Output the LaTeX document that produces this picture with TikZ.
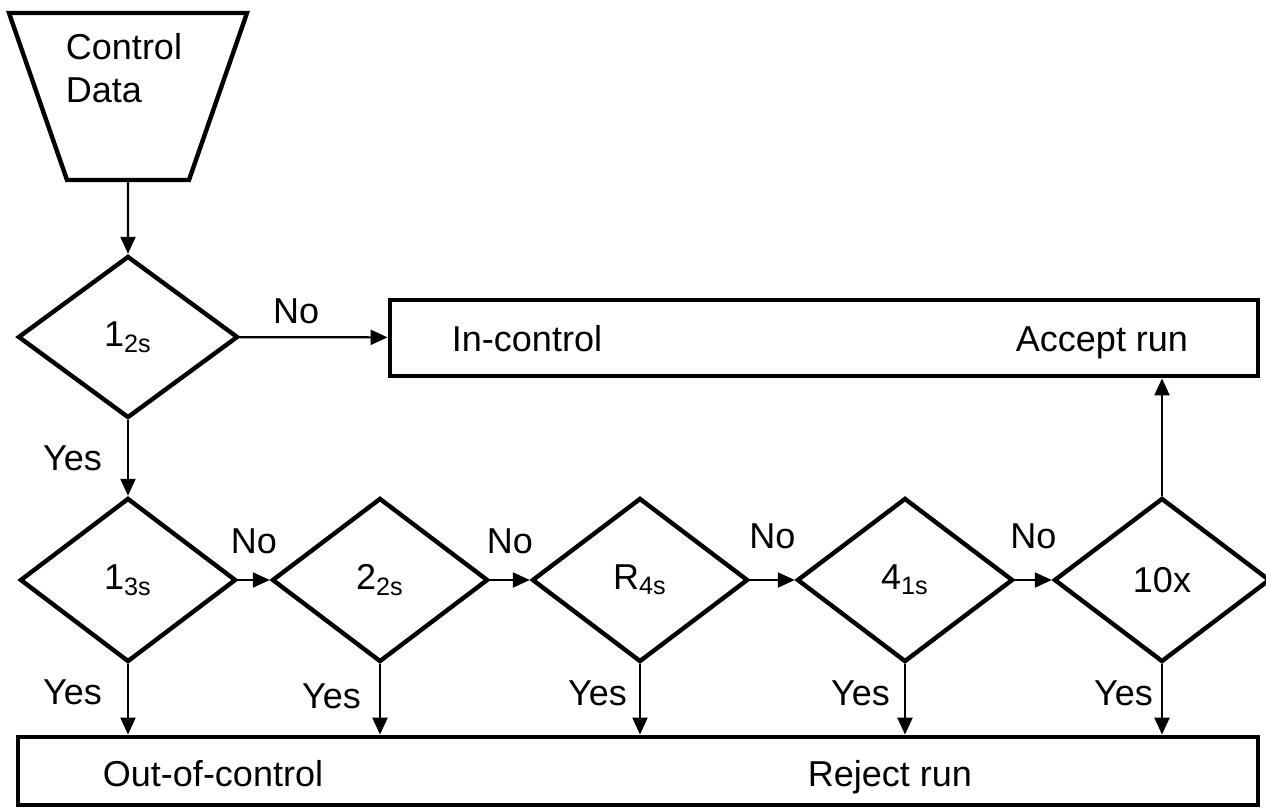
\documentclass[tikz,border=0pt]{standalone}
\usepackage{fontspec}
\setmainfont{Liberation Sans}
\usetikzlibrary{shapes.geometric,arrows.meta}

\begin{document}
\begin{tikzpicture}[x=0.5pt,y=-0.5pt,
  font=\fontsize{18}{21.5}\selectfont,
  box/.style={draw,line width=2.4pt,inner sep=0pt},
  test/.style={draw,diamond,line width=2.2pt,inner sep=0pt,
    minimum width=108pt,minimum height=82pt,aspect=1.32},
  arr/.style={-{Triangle[length=8.5pt,width=7.5pt]},line width=1.1pt},
  lbl/.style={inner sep=6pt}]
  \useasboundingbox (0,0) rectangle (1266,809);
  \node[draw,trapezium,shape border rotate=180,trapezium angle=70.85,
    text width=61pt,text height=83.5pt,text depth=0pt,
    inner sep=0pt,line width=2.2pt] (data) at (128,96.5) {};
  \node[align=left] (datatext) at (124,68.5) {Control\\Data};
  \node[test,minimum width=110pt,minimum height=81pt] (d12) at (128,337) {1\textsubscript{2s}};
  \node[box,minimum width=434pt,minimum height=38pt] (accept) at (824,338) {};
  \node[anchor=base] (incontrol) at (527,351) {In-control};
  \node[anchor=base] (acceptrun) at (1102,351) {Accept run};
  \node[test] (d13) at (128,580) {1\textsubscript{3s}};
  \node[test] (d22) at (380,580) {2\textsubscript{2s}};
  \node[test] (r4s) at (640,580) {R\textsubscript{4s}};
  \node[test] (d41) at (905,580) {4\textsubscript{1s}};
  \node[test] (d10x) at (1162,580) {10x};
  \node[box,minimum width=620pt,minimum height=34pt] (reject) at (638,771) {};
  \node[anchor=base] (outcontrol) at (213,786) {Out-of-control};
  \node[anchor=base] (rejectrun) at (890,786) {Reject run};
  \draw[arr] (data) -- (d12);
  \draw[arr] (d12) -- node[lbl,above,pos=0.38] {No} (accept);
  \draw[arr] (d12) -- node[lbl,left=6.5pt] {Yes} (d13);
  \draw[arr] (d13) -- node[lbl,above=6.5pt] {No} (d22);
  \draw[arr] (d22) -- node[lbl,above=6.5pt] {No} (r4s);
  \draw[arr] (r4s) -- node[lbl,above=9pt] {No} (d41);
  \draw[arr] (d41) -- node[lbl,above=9pt] {No} (d10x);
  \draw[arr] (d10x) -- (d10x |- accept.south);
  \draw[arr] (d13) -- node[lbl,left=6.5pt,pos=0.4] {Yes} (d13 |- reject.north);
  \draw[arr] (d22) -- node[lbl,left=3pt,pos=0.45] {Yes} (d22 |- reject.north);
  \draw[arr] (r4s) -- node[lbl,left=0pt,pos=0.42] {Yes} (r4s |- reject.north);
  \draw[arr] (d41) -- node[lbl,left=1pt,pos=0.42] {Yes} (d41 |- reject.north);
  \draw[arr] (d10x) -- node[lbl,left=-2pt,pos=0.42] {Yes} (d10x |- reject.north);
\end{tikzpicture}
\end{document}
